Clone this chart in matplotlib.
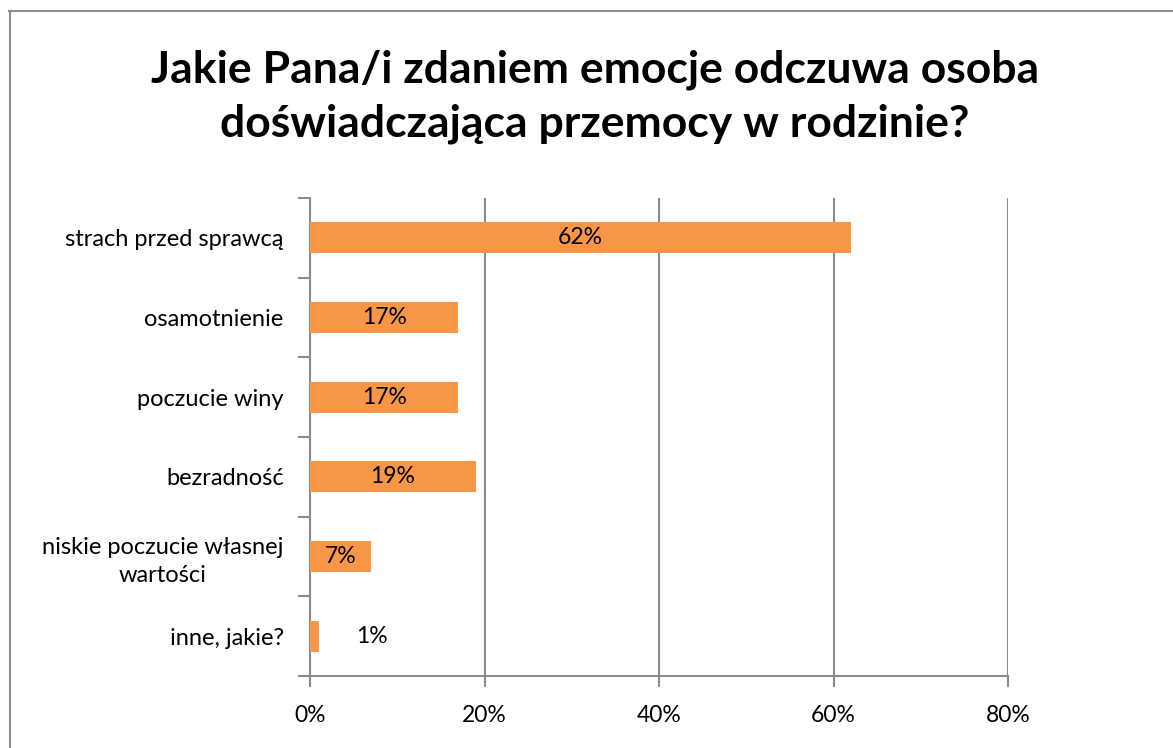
import matplotlib
matplotlib.use("Agg")
import matplotlib.pyplot as plt
from matplotlib.lines import Line2D
from matplotlib.ticker import FixedLocator, PercentFormatter

plt.rcParams['font.family'] = ['Lato', 'DejaVu Sans']

title = "Jakie Pana/i zdaniem emocje odczuwa osoba\ndoświadczająca przemocy w rodzinie?"
categories = [
    "strach przed sprawcą",
    "osamotnienie",
    "poczucie winy",
    "bezradność",
    "niskie poczucie własnej\nwartości",
    "inne, jakie?",
]
values = [62, 17, 17, 19, 7, 1]
x_ticks = [0, 20, 40, 60, 80]

bar_color = "#F79646"
grid_color = "#8C8C8C"

fig = plt.figure(figsize=(11.73, 7.48), dpi=100)
ax = fig.add_axes([310 / 1173, 1 - 676 / 748, 698 / 1173, 478 / 748])

n = len(categories)
pos = list(range(n))[::-1]  # first category on top
ax.barh(pos, values, height=0.39, color=bar_color, zorder=3)

for p, v in zip(pos, values):
    # small bars get their label just outside the bar
    x = v / 2 if v >= 5 else v + 6.1
    ax.text(x, p, f"{v}%", ha="center", va="center", fontsize=16.5, color="black", zorder=4)

ax.set_xlim(0, 80)
ax.set_ylim(-0.5, n - 0.5)
ax.xaxis.set_major_locator(FixedLocator(x_ticks))
ax.xaxis.set_major_formatter(PercentFormatter(decimals=0))
ax.set_yticks(pos)
ax.set_yticklabels(categories, ha="right", multialignment="center", linespacing=1.4)
ax.yaxis.set_minor_locator(FixedLocator([i - 0.5 for i in range(n + 1)]))

ax.grid(axis="x", color=grid_color, linewidth=1.5, zorder=0)
ax.tick_params(axis="y", which="major", length=0, pad=19, labelsize=17)
ax.tick_params(axis="y", which="minor", length=9, width=1.5, color=grid_color)
ax.tick_params(axis="x", which="major", length=8, width=1.5, color=grid_color, pad=13, labelsize=16.5)

for side in ("top", "right"):
    ax.spines[side].set_visible(False)
for side in ("left", "bottom"):
    ax.spines[side].set_color(grid_color)
    ax.spines[side].set_linewidth(1.5)

fig.text(0.507, 1 - 97 / 748, title, ha="center", va="center", fontsize=32,
         fontweight="bold", linespacing=1.42)

# chart frame
fig.add_artist(Line2D([9 / 1173, 1], [1 - 10.5 / 748] * 2, color=grid_color, linewidth=1.5,
                      transform=fig.transFigure))
fig.add_artist(Line2D([9.5 / 1173] * 2, [0, 1 - 10.5 / 748], color=grid_color, linewidth=1.5,
                      transform=fig.transFigure))

fig.savefig("out.png", dpi=100, facecolor="white")
